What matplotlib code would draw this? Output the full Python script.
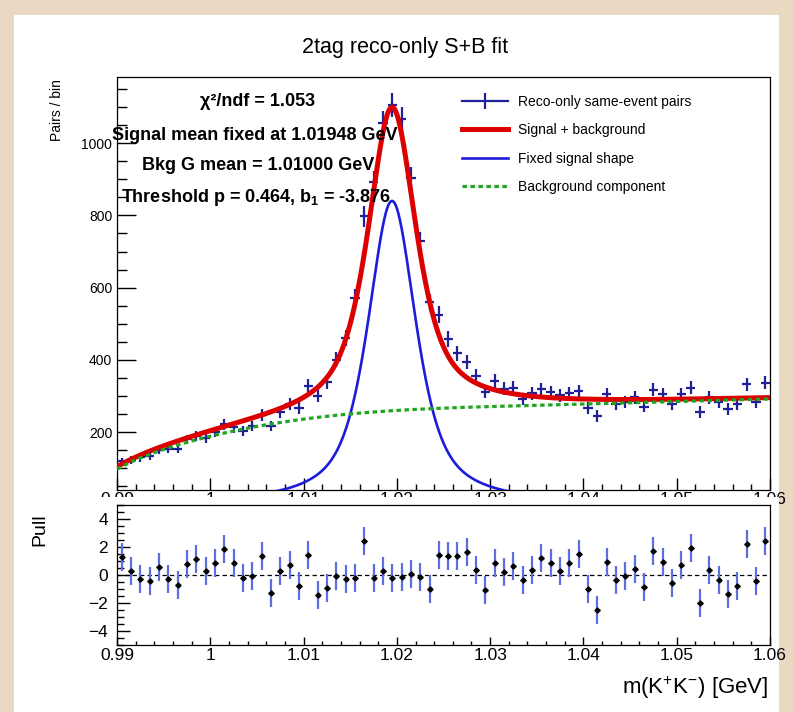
import numpy as np
import matplotlib.pyplot as plt
from matplotlib.patches import Rectangle
from matplotlib.lines import Line2D
from matplotlib.ticker import FixedLocator, MultipleLocator

plt.rcParams['font.family'] = ['Liberation Sans', 'DejaVu Sans']
plt.rcParams['mathtext.fontset'] = 'custom'
plt.rcParams['mathtext.rm'] = 'Liberation Sans'
plt.rcParams['mathtext.it'] = 'Liberation Sans:italic'
plt.rcParams['mathtext.bf'] = 'Liberation Sans:bold'

W, H = 793, 712

# K+K- mass histogram, 1 MeV bins from 0.99 to 1.06 GeV
x_lo, x_hi, bin_w = 0.99, 1.06, 0.001
counts = [119, 122, 130, 134, 151, 154, 154, 180, 190, 185,
          200, 222, 213, 204, 217, 248, 217, 256, 277, 266,
          328, 301, 339, 401, 461, 571, 797, 893, 1056, 1105,
          1066, 903, 728, 560, 525, 458, 418, 395, 355, 311,
          342, 320, 323, 292, 308, 319, 310, 302, 308, 314,
          268, 245, 305, 277, 284, 296, 271, 317, 305, 277,
          305, 323, 256, 296, 284, 265, 277, 332, 284, 337]
pulls = [1.27, 0.32, -0.27, -0.44, 0.56, -0.27, -0.68, 0.80, 1.15, 0.32,
         0.87, 1.86, 0.87, -0.20, -0.08, 1.39, -1.32, 0.27, 0.70, -0.80,
         1.41, -1.44, -0.96, -0.08, -0.25, -0.20, 2.46, -0.20, 0.27, -0.20,
         -0.13, 0.04, -0.15, -0.98, 1.40, 1.34, 1.39, 1.65, 0.39, -1.08,
         0.87, 0.20, 0.63, -0.37, 0.39, 1.22, 0.87, 0.32, 0.87, 1.53,
         -0.98, -2.53, 0.94, -0.39, -0.08, 0.44, -0.87, 1.69, 0.91, -0.56,
         0.75, 1.94, -1.98, 0.39, -0.37, -1.34, -0.75, 2.22, -0.44, 2.46]

x_ticks = [0.99, 1.00, 1.01, 1.02, 1.03, 1.04, 1.05, 1.06]
x_tick_labels = ['0.99', '1', '1.01', '1.02', '1.03', '1.04', '1.05', '1.06']
y_ticks = [200, 400, 600, 800, 1000]
pull_ticks = [-4, -2, 0, 2, 4]

# fit result
m_sig = 1.01948
sig_amp = 840.0
sig_gamma = 0.0032
sig_sigma = 0.0025
sig_eta = 0.70
thr_x0 = 0.987354
thr_p = 0.464
thr_b1 = -3.876
thr_norm = 1305.0
bkg_g_mean = 1.01000
bkg_g_amp = 30.0
bkg_g_width = 0.017

info_lines = ['χ²/ndf = 1.053',
              'Signal mean fixed at 1.01948 GeV',
              'Bkg G mean = 1.01000 GeV',
              r'Threshold p = 0.464, b$_{\mathbf{1}}$ = -3.876']


def signal(x):
    d = x - m_sig
    lor = 1.0 / (1.0 + (d / sig_gamma) ** 2)
    gau = np.exp(-0.5 * (d / sig_sigma) ** 2)
    return sig_amp * (sig_eta * lor + (1 - sig_eta) * gau)


def background(x):
    dx = np.clip(x - thr_x0, 1e-9, None)
    thr = thr_norm * dx ** thr_p * np.exp(thr_b1 * dx)
    return thr + bkg_g_amp * np.exp(-0.5 * ((x - bkg_g_mean) / bkg_g_width) ** 2)


def fig_box(left, top, right, bottom):
    return [left / W, 1 - bottom / H, (right - left) / W, (bottom - top) / H]


def fpos(x, y):
    return x / W, 1 - y / H


counts = np.array(counts, dtype=float)
pulls = np.array(pulls)
centres = x_lo + bin_w * (np.arange(len(counts)) + 0.5)
xf = np.linspace(x_lo, x_hi, 1200)

fig = plt.figure(figsize=(W / 100, H / 100), dpi=100, facecolor='#ead8c2')
fig.add_artist(Rectangle((14 / W, 0), (779 - 14) / W, (H - 15) / H,
                         transform=fig.transFigure, facecolor='white',
                         edgecolor='none', zorder=-1))

# upper pad: data and fit components
ax = fig.add_axes(fig_box(117, 77, 770, 490))
data_col = '#20209a'
ax.errorbar(centres, counts, yerr=np.sqrt(counts), xerr=bin_w / 2, fmt='none',
            ecolor=data_col, elinewidth=1.6, capsize=0, zorder=3)
ax.plot(xf, signal(xf) + background(xf), color='#dd0000', lw=3.6, zorder=4)
ax.plot(xf, signal(xf), color='#1c1cdc', lw=1.9, zorder=5)
ax.plot(xf, background(xf), color='#1fa51f', lw=2.3, ls=(0, (1.4, 1.1)), zorder=6)

ax.set_xlim(x_lo, x_hi)
ax.set_ylim(40, 1183)
ax.xaxis.set_major_locator(FixedLocator(x_ticks))
ax.set_xticklabels(x_tick_labels)
ax.xaxis.set_minor_locator(MultipleLocator(0.002))
ax.yaxis.set_major_locator(FixedLocator(y_ticks))
ax.yaxis.set_minor_locator(MultipleLocator(50))
ax.tick_params(which='both', direction='in', top=False, right=False, width=1)
ax.tick_params(axis='y', which='major', length=14, labelsize=10, pad=3.5)
ax.tick_params(axis='y', which='minor', length=7)
ax.tick_params(axis='x', which='major', length=8.5, labelsize=12.5, pad=1.5)
ax.tick_params(axis='x', which='minor', length=4.3)
for s in ax.spines.values():
    s.set_linewidth(0.9)

handles = [Line2D([], [], color=data_col, lw=1.6, marker='|', ms=11, mew=1.6),
           Line2D([], [], color='#dd0000', lw=3.6),
           Line2D([], [], color='#1c1cdc', lw=1.9),
           Line2D([], [], color='#1fa51f', lw=2.3, ls=(0, (1.4, 1.1)))]
labels = ['Reco-only same-event pairs', 'Signal + background',
          'Fixed signal shape', 'Background component']
ax.legend(handles, labels, loc='upper left', bbox_to_anchor=fpos(462, 95),
          bbox_transform=fig.transFigure, frameon=False, fontsize=10,
          handlelength=3.3, handletextpad=0.7, labelspacing=1.03,
          borderpad=0, borderaxespad=0)

# strip hiding the lower half of the upper pad's x labels
fig.add_artist(Rectangle(fpos(60, 505), (779 - 60) / W, 8 / H, transform=fig.transFigure,
                         facecolor='white', edgecolor='none', zorder=1))

# lower pad: pulls
ax2 = fig.add_axes(fig_box(117, 505, 770, 645), zorder=2)
ax2.errorbar(centres, pulls, yerr=1.0, fmt='none', ecolor='#5b6fe0',
             elinewidth=1.6, capsize=0, zorder=2)
ax2.errorbar(centres, pulls, xerr=bin_w * 0.3, fmt='D', ms=2.6, color='black',
             elinewidth=1.0, capsize=0, zorder=3)
ax2.axhline(0, color='black', lw=0.9, ls=(0, (3.5, 2.5)), zorder=1)
ax2.set_xlim(x_lo, x_hi)
ax2.set_ylim(-5, 5)
ax2.xaxis.set_major_locator(FixedLocator(x_ticks))
ax2.set_xticklabels(x_tick_labels)
ax2.xaxis.set_minor_locator(MultipleLocator(0.002))
ax2.yaxis.set_major_locator(FixedLocator(pull_ticks))
ax2.yaxis.set_minor_locator(MultipleLocator(0.5))
ax2.tick_params(which='both', direction='in', top=False, right=False, width=1)
ax2.tick_params(axis='y', which='major', length=9, labelsize=12.5, pad=6.5)
ax2.tick_params(axis='y', which='minor', length=5)
ax2.tick_params(axis='x', which='major', length=6, labelsize=12.5, pad=2)
ax2.tick_params(axis='x', which='minor', length=3)
for s in ax2.spines.values():
    s.set_linewidth(0.9)

# titles and fit summary
fig.text(*fpos(405, 47), '2tag reco-only S+B fit', ha='center', va='center', fontsize=15.5)
fig.text(*fpos(57, 110), 'Pairs / bin', rotation=90, ha='center', va='center', fontsize=10)
fig.text(*fpos(40, 530), 'Pull', rotation=90, ha='center', va='center', fontsize=14)
fig.text(*fpos(768, 688), 'm(K$^{+}$K$^{-}$) [GeV]', ha='right', va='center', fontsize=16)
for (cx, cy), line in zip([(258, 102), (255, 136), (258, 166), (256, 197)], info_lines):
    fig.text(*fpos(cx, cy), line, ha='center', va='center', fontsize=13,
             fontweight='bold', zorder=10)

fig.savefig('out.png', dpi=100, facecolor=fig.get_facecolor())
